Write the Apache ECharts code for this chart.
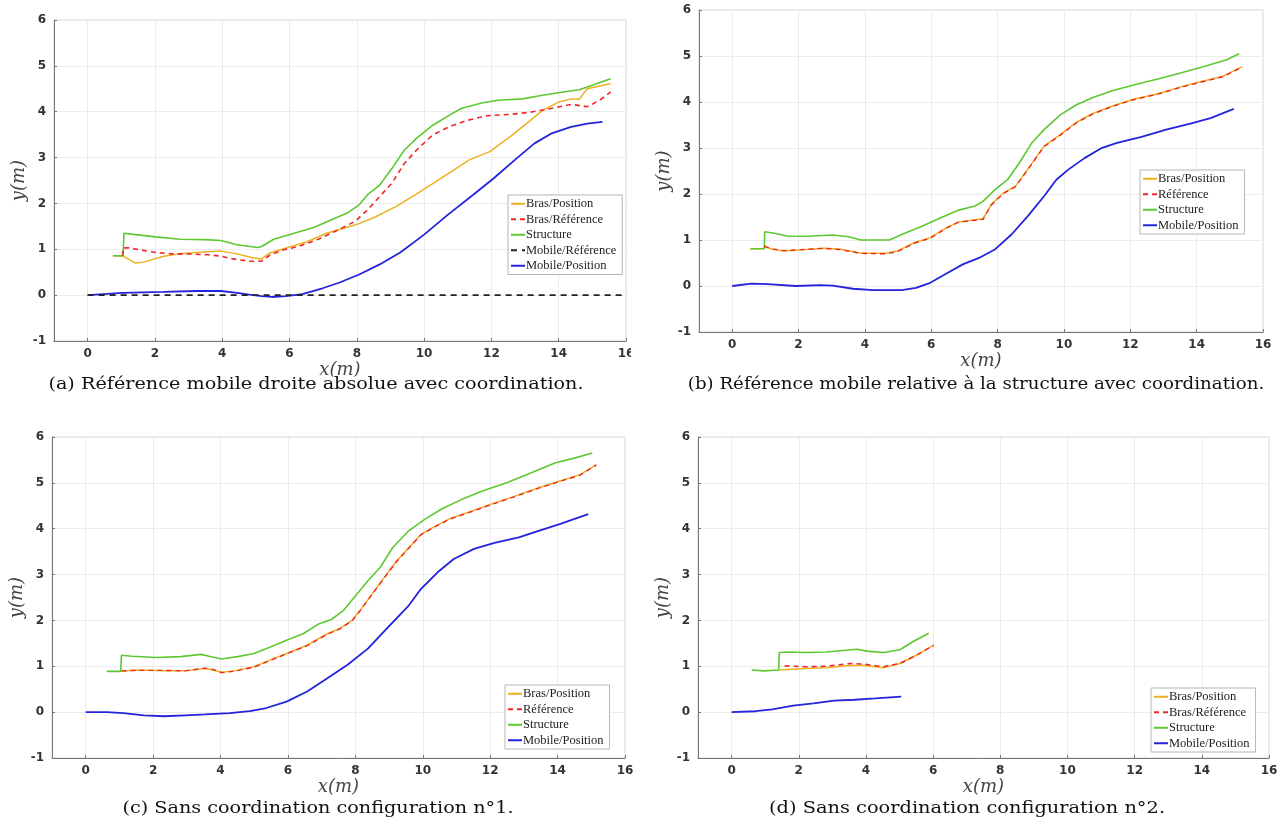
<!DOCTYPE html>
<html>
<head>
<meta charset="utf-8">
<script src="https://cdn.jsdelivr.net/npm/echarts@6/dist/echarts.min.js"></script>
<style>
html,body{margin:0;padding:0;background:#fff;}
#chart{width:1288px;height:825px;}
</style>
</head>
<body>
<div id="chart"></div>
<script>
// ---- tick labels ----
const xTicks = [0, 2, 4, 6, 8, 10, 12, 14, 16];
const captions = [
  '(a) Référence mobile droite absolue avec coordination.',
  '(b) Référence mobile relative à la structure avec coordination.',
  '(c) Sans coordination configuration n°1.',
  '(d) Sans coordination configuration n°2.'
];

// ---- panel (a) ----
const aBrasPos = [[0.75,0.86],[1.05,0.85],[1.42,0.70],[1.66,0.72],[2.26,0.85],[2.75,0.9],[3.47,0.94],[3.96,0.96],[4.44,0.9],[4.93,0.81],[5.17,0.79],[5.41,0.92],[5.9,1.03],[6.5,1.16],[7.1,1.35],[7.71,1.48],[8.07,1.56],[8.56,1.71],[9.16,1.93],[9.65,2.15],[10.13,2.37],[10.74,2.66],[11.34,2.95],[11.95,3.13],[12.55,3.45],[13.16,3.81],[13.52,4.03],[14.0,4.21],[14.37,4.28],[14.61,4.27],[14.73,4.39],[14.85,4.5],[15.46,4.6],[15.54,4.61]];
const aBrasRef = [[1.05,0.86],[1.05,1.03],[1.23,1.03],[2.02,0.93],[2.5,0.9],[2.99,0.9],[3.6,0.88],[3.96,0.85],[4.32,0.79],[4.8,0.74],[5.17,0.74],[5.41,0.87],[5.78,0.98],[6.26,1.06],[6.86,1.22],[7.47,1.43],[7.95,1.61],[8.32,1.86],[8.68,2.15],[9.04,2.44],[9.41,2.87],[9.77,3.16],[10.25,3.49],[10.74,3.67],[11.22,3.8],[11.83,3.91],[12.55,3.94],[13.16,3.99],[13.77,4.07],[14.37,4.16],[14.85,4.11],[15.22,4.25],[15.54,4.43]];
const aStruct = [[0.75,0.86],[1.05,0.86],[1.08,1.35],[1.42,1.32],[2.02,1.27],[2.75,1.22],[3.47,1.21],[3.96,1.19],[4.44,1.1],[5.05,1.04],[5.17,1.06],[5.53,1.22],[6.14,1.35],[6.74,1.48],[7.23,1.64],[7.71,1.79],[8.07,1.97],[8.32,2.19],[8.68,2.4],[9.04,2.76],[9.41,3.16],[9.77,3.42],[10.25,3.7],[10.74,3.92],[11.1,4.07],[11.71,4.19],[12.19,4.25],[12.92,4.28],[13.52,4.36],[14.13,4.43],[14.61,4.48],[14.85,4.54],[15.54,4.72]];
const aMobRef = [[0,0],[16,0]];
const aMobPos = [[0,0],[1.05,0.05],[2.26,0.07],[3.23,0.09],[3.96,0.09],[4.44,0.05],[4.8,0.01],[5.17,-0.02],[5.47,-0.04],[5.9,-0.02],[6.38,0.02],[6.98,0.15],[7.47,0.27],[8.07,0.45],[8.68,0.67],[9.29,0.93],[10.0,1.32],[10.7,1.75],[11.46,2.19],[12.07,2.55],[12.68,2.94],[13.28,3.31],[13.77,3.52],[14.37,3.67],[14.85,3.74],[15.3,3.78]];

// ---- panel (b) ----
const bBrasPos = [[0.55,0.81],[0.94,0.81],[0.98,0.87],[1.19,0.8],[1.56,0.76],[2.05,0.78],[2.78,0.82],[3.27,0.8],[3.88,0.71],[4.62,0.71],[4.99,0.76],[5.48,0.94],[5.97,1.05],[6.46,1.27],[6.83,1.39],[7.56,1.46],[7.81,1.77],[8.17,2.02],[8.54,2.17],[8.97,2.6],[9.4,3.04],[9.89,3.29],[10.38,3.56],[10.87,3.75],[11.48,3.92],[12.1,4.06],[12.83,4.18],[13.57,4.34],[14.18,4.45],[14.79,4.56],[15.38,4.77]];
const bRef = [[0.96,0.86],[1.19,0.81],[1.56,0.77],[2.05,0.79],[2.78,0.82],[3.27,0.79],[3.88,0.71],[4.62,0.7],[4.99,0.75],[5.48,0.93],[5.97,1.04],[6.46,1.26],[6.83,1.39],[7.56,1.45],[7.81,1.76],[8.17,2.01],[8.54,2.16],[8.97,2.59],[9.4,3.03],[9.89,3.28],[10.38,3.55],[10.87,3.74],[11.48,3.91],[12.1,4.05],[12.83,4.17],[13.57,4.33],[14.18,4.44],[14.79,4.55],[15.38,4.76]];
const bStruct = [[0.55,0.81],[0.97,0.81],[0.98,1.18],[1.31,1.14],[1.68,1.08],[2.29,1.08],[3.03,1.11],[3.52,1.07],[3.88,1.0],[4.74,1.0],[5.11,1.12],[5.72,1.3],[6.34,1.5],[6.83,1.65],[7.32,1.74],[7.56,1.84],[7.93,2.1],[8.3,2.31],[8.66,2.68],[9.03,3.11],[9.4,3.4],[9.89,3.72],[10.38,3.94],[10.87,4.1],[11.48,4.25],[12.1,4.37],[12.83,4.5],[13.57,4.64],[14.3,4.79],[14.91,4.92],[15.28,5.05]];
const bMobPos = [[0,0],[0.58,0.05],[1.07,0.04],[1.92,0],[2.66,0.02],[3.03,0.01],[3.64,-0.06],[4.25,-0.09],[5.11,-0.09],[5.54,-0.04],[5.97,0.07],[6.46,0.27],[6.95,0.47],[7.44,0.61],[7.93,0.8],[8.42,1.12],[8.91,1.52],[9.4,1.95],[9.77,2.31],[10.13,2.53],[10.62,2.78],[11.11,2.99],[11.6,3.11],[12.34,3.24],[13.08,3.4],[13.81,3.53],[14.42,3.65],[15.12,3.85]];

// ---- panel (c) ----
const cBrasPos = [[1.06,0.89],[1.49,0.92],[2.33,0.9],[2.94,0.9],[3.54,0.95],[3.78,0.92],[4.03,0.87],[4.39,0.9],[4.99,0.99],[5.48,1.14],[5.96,1.28],[6.57,1.46],[7.17,1.71],[7.53,1.82],[7.9,2.0],[8.14,2.22],[8.5,2.58],[8.86,2.94],[9.23,3.3],[9.59,3.59],[9.95,3.88],[10.31,4.03],[10.8,4.22],[11.4,4.37],[12.01,4.53],[12.73,4.71],[13.46,4.9],[14.06,5.04],[14.67,5.18],[15.15,5.4]];
const cRef = [[1.06,0.9],[1.49,0.91],[2.33,0.91],[2.94,0.9],[3.54,0.96],[3.78,0.93],[4.03,0.86],[4.39,0.89],[4.99,0.98],[5.48,1.13],[5.96,1.27],[6.57,1.45],[7.17,1.7],[7.53,1.81],[7.9,1.99],[8.14,2.21],[8.5,2.57],[8.86,2.93],[9.23,3.29],[9.59,3.58],[9.95,3.87],[10.31,4.02],[10.8,4.21],[11.4,4.36],[12.01,4.52],[12.73,4.7],[13.46,4.89],[14.06,5.03],[14.67,5.17],[15.15,5.39]];
const cStruct = [[0.62,0.89],[1.04,0.89],[1.06,1.24],[1.37,1.22],[2.09,1.19],[2.82,1.21],[3.42,1.26],[3.66,1.22],[4.03,1.16],[4.51,1.21],[4.99,1.28],[5.48,1.42],[5.96,1.57],[6.45,1.71],[6.93,1.93],[7.29,2.02],[7.65,2.22],[8.02,2.55],[8.38,2.87],[8.74,3.16],[9.11,3.59],[9.59,3.96],[10.07,4.21],[10.56,4.43],[11.16,4.64],[11.77,4.82],[12.49,5.0],[13.22,5.22],[13.94,5.44],[14.55,5.55],[15.03,5.65]];
const cMobPos = [[0,0],[0.64,0],[1.12,-0.02],[1.73,-0.07],[2.33,-0.09],[2.94,-0.07],[3.54,-0.05],[4.27,-0.02],[4.87,0.02],[5.36,0.09],[5.96,0.23],[6.57,0.45],[7.17,0.74],[7.78,1.04],[8.38,1.39],[8.98,1.86],[9.59,2.33],[9.95,2.69],[10.44,3.05],[10.92,3.34],[11.52,3.56],[12.13,3.69],[12.85,3.81],[13.46,3.96],[14.06,4.1],[14.91,4.32]];

// ---- panel (d) ----
const dBrasPos = [[1.42,0.92],[2.19,0.95],[2.81,0.97],[3.42,1.01],[3.91,1.02],[4.52,0.97],[5.01,1.06],[5.5,1.24],[6.02,1.46]];
const dBrasRef = [[1.58,1.01],[2.19,0.99],[2.81,1.0],[3.54,1.06],[3.91,1.05],[4.52,0.99],[5.01,1.06],[5.5,1.24],[6.02,1.46]];
const dStruct = [[0.6,0.92],[0.97,0.9],[1.4,0.92],[1.42,1.3],[1.7,1.31],[2.19,1.3],[2.81,1.31],[3.42,1.35],[3.73,1.37],[4.03,1.33],[4.52,1.3],[5.01,1.36],[5.38,1.53],[5.87,1.72]];
const dMobPos = [[0,0],[0.72,0.02],[1.21,0.06],[1.83,0.14],[2.44,0.19],[3.05,0.25],[3.66,0.27],[4.28,0.3],[5.05,0.34]];

// ---- styling ----
const C = { orange:'#EDB120', red:'#F02828', green:'#5EC832', blue:'#2323DC', black:'#222222' };
const grids = [
  { left: 54, top: 20, width: 572, height: 321 },
  { left: 699, top: 10, width: 564, height: 322 },
  { left: 52, top: 437, width: 573, height: 321 },
  { left: 698, top: 437, width: 571, height: 321 }
];
const legendPos = [
  { left: 508, top: 195 },
  { left: 1140, top: 170 },
  { left: 505, top: 685 },
  { left: 1151, top: 688 }
];
const captionPos = [[316, 385], [976, 385], [318, 809], [967, 809]];
const captionScale = [1.13, 1.07, 1.13, 1.14];

const tickLabel = { fontFamily: 'DejaVu Sans', fontWeight: 'bold', fontSize: 12, color: '#333' };
const nameStyle = { fontFamily: 'DejaVu Serif', fontStyle: 'italic', fontSize: 18, color: '#444' };

const xAxes = grids.map((g, i) => ({
  gridIndex: i, type: 'value', min: -1, max: 16,
  name: 'x(m)', nameLocation: 'middle', nameGap: 19, nameTextStyle: nameStyle,
  axisLine: { onZero: false, lineStyle: { color: '#777', width: 1 } },
  axisTick: { inside: true, length: 3, customValues: xTicks, lineStyle: { color: '#777' } },
  axisLabel: { customValues: xTicks, margin: 7, ...tickLabel },
  splitLine: { show: true, lineStyle: { color: '#ececec', width: 1 } }
}));
const yAxes = grids.map((g, i) => ({
  gridIndex: i, type: 'value', min: -1, max: 6, interval: 1,
  name: 'y(m)', nameLocation: 'middle', nameGap: 22, nameTextStyle: nameStyle,
  axisLine: { onZero: false, lineStyle: { color: '#777', width: 1 } },
  axisTick: { inside: true, length: 3, lineStyle: { color: '#777' } },
  axisLabel: { margin: 8, ...tickLabel },
  splitLine: { show: true, lineStyle: { color: '#ececec', width: 1 } }
}));

function line(name, data, idx, color, width, dashed, z) {
  return {
    type: 'line', name, data, xAxisIndex: idx, yAxisIndex: idx,
    symbol: 'none', showSymbol: false, smooth: false, z: z || 2,
    lineStyle: { color, width, type: dashed ? dashed : 'solid' },
    itemStyle: { color },
    emphasis: { disabled: true }
  };
}

const series = [
  line('Bras/Position', aBrasPos, 0, C.orange, 1.5),
  line('Bras/Référence', aBrasRef, 0, C.red, 1.6, [5, 4], 3),
  line('Structure', aStruct, 0, C.green, 1.6),
  line('Mobile/Référence', aMobRef, 0, C.black, 1.8, [6, 5], 3),
  line('Mobile/Position', aMobPos, 0, C.blue, 1.8),

  line('Bras/Position', bBrasPos, 1, C.orange, 1.5),
  line('Référence', bRef, 1, C.red, 1.4, [5, 4], 3),
  line('Structure', bStruct, 1, C.green, 1.6),
  line('Mobile/Position', bMobPos, 1, C.blue, 1.8),

  line('Bras/Position', cBrasPos, 2, C.orange, 1.5),
  line('Référence', cRef, 2, C.red, 1.4, [5, 4], 3),
  line('Structure', cStruct, 2, C.green, 1.6),
  line('Mobile/Position', cMobPos, 2, C.blue, 1.8),

  line('Bras/Position', dBrasPos, 3, C.orange, 1.5),
  line('Bras/Référence', dBrasRef, 3, C.red, 1.6, [5, 4], 3),
  line('Structure', dStruct, 3, C.green, 1.6),
  line('Mobile/Position', dMobPos, 3, C.blue, 1.8)
];

const legendNames = [
  ['Bras/Position', 'Bras/Référence', 'Structure', 'Mobile/Référence', 'Mobile/Position'],
  ['Bras/Position', 'Référence', 'Structure', 'Mobile/Position'],
  ['Bras/Position', 'Référence', 'Structure', 'Mobile/Position'],
  ['Bras/Position', 'Bras/Référence', 'Structure', 'Mobile/Position']
];
const legends = legendNames.map((names, i) => ({
  data: names, orient: 'vertical', left: legendPos[i].left, top: legendPos[i].top,
  itemWidth: 14, itemHeight: 10, itemGap: 2, padding: [2, 6, 2, 2],
  borderColor: '#b5b5b5', borderWidth: 1, backgroundColor: '#fff',
  selectedMode: false,
  itemStyle: { opacity: 0, borderWidth: 0 },
  textStyle: { fontFamily: 'Liberation Serif', fontSize: 12.5, lineHeight: 13.5, color: '#222', padding: [0, 0, 0, -4] }
}));

const graphics = [];
// clip of the "16" label on panel (a) (the subfigure was cropped)
graphics.push({ type: 'rect', left: 631, top: 343, shape: { width: 12, height: 20 }, style: { fill: '#fff' }, z: 100 });
captionPos.forEach((p, i) => {
  graphics.push({
    type: 'text', x: p[0], y: p[1], scaleX: captionScale[i], z: 101,
    style: { text: captions[i], fill: '#111', font: '17px "DejaVu Serif"', align: 'center', verticalAlign: 'middle',
             backgroundColor: '#fff', padding: [0, 2] }
  });
});

const option = {
  animation: false,
  backgroundColor: '#fff',
  grid: grids.map(g => ({ ...g, show: true, borderColor: '#d5d5d5', borderWidth: 1, backgroundColor: 'transparent', containLabel: false })),
  xAxis: xAxes,
  yAxis: yAxes,
  legend: legends,
  series,
  graphic: graphics
};
const chart = echarts.init(document.getElementById('chart'), null, { renderer: 'canvas' });
chart.setOption(option);
</script>
</body>
</html>
